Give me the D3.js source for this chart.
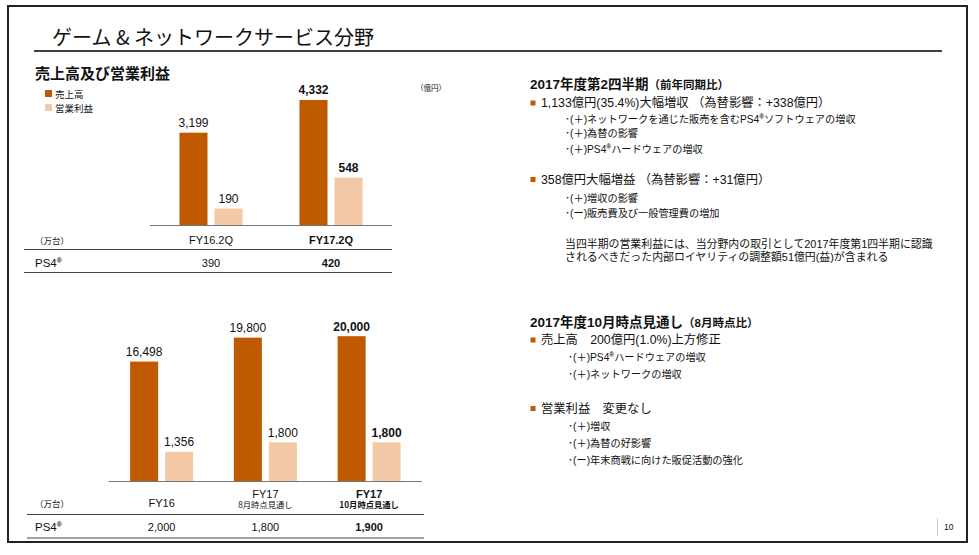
<!DOCTYPE html>
<html>
<head>
<meta charset="utf-8">
<script src="https://cdn.jsdelivr.net/npm/d3@7"></script>
<style>
  body { margin: 0; background: #fff; }
  svg text { font-family: "Liberation Sans", "Noto Sans CJK JP", sans-serif; fill: #111; }
  .jp { font-family: "Noto Sans CJK JP", "Liberation Sans", sans-serif; }
</style>
</head>
<body>
<svg id="slide" width="979" height="555"></svg>
<script>
// quarterly chart data (億円 / 万台)
const qCategories = ['FY16.2Q', 'FY17.2Q'];
const qSales = [3199, 4332];
const qProfit = [190, 548];
const qPs4 = [390, 420];

// full-year chart data
const fyCategories = ['FY16', 'FY17', 'FY17'];
const fySubLabels = ['', '8月時点見通し', '10月時点見通し'];
const fySales = [16498, 19800, 20000];
const fyProfit = [1356, 1800, 1800];
const fyPs4 = [2000, 1800, 1900];

const seriesNames = ['売上高', '営業利益'];
const salesColor = '#C05A00';
const profitColor = '#F2C8A6';

// right hand notes
const notesQ = [
	{ type: 'head', text: '2017年度第2四半期', small: '（前年同期比）' },
	{ type: 'bullet', text: '1,133億円(35.4%)大幅増収 （為替影響：+338億円）' },
	{ type: 'sub', text: '･(＋)ネットワークを通じた販売を含むPS4', reg: 'ソフトウェアの増収' },
	{ type: 'sub', text: '･(＋)為替の影響' },
	{ type: 'sub', text: '･(＋)PS4', reg: 'ハードウェアの増収' },
	{ type: 'bullet', text: '358億円大幅増益 （為替影響：+31億円）' },
	{ type: 'sub', text: '･(＋)増収の影響' },
	{ type: 'sub', text: '･(ー)販売費及び一般管理費の増加' },
	{ type: 'plain', text: '当四半期の営業利益には、当分野内の取引として2017年度第1四半期に認識' },
	{ type: 'plain', text: 'されるべきだった内部ロイヤリティの調整額51億円(益)が含まれる' }
];
const notesQY = [84, 103, 119.5, 133, 149, 179.5, 198, 213.5, 244.5, 257];

const notesFY = [
	{ type: 'head', text: '2017年度10月時点見通し', small: '（8月時点比）' },
	{ type: 'bullet', text: '売上高　200億円(1.0%)上方修正' },
	{ type: 'sub', text: '･(＋)PS4', reg: 'ハードウェアの増収' },
	{ type: 'sub', text: '･(＋)ネットワークの増収' },
	{ type: 'bullet', text: '営業利益　変更なし' },
	{ type: 'sub', text: '･(＋)増収' },
	{ type: 'sub', text: '･(＋)為替の好影響' },
	{ type: 'sub', text: '･(ー)年末商戦に向けた販促活動の強化' }
];
const notesFYY = [322, 340, 357.5, 374, 408.5, 426, 443, 460];

const svg = d3.select('#slide');
const fmt = d3.format(',');

// frame + title
svg.append('rect').attr('x', 8).attr('y', 6).attr('width', 959).attr('height', 536)
	.attr('fill', 'none').attr('stroke', '#222').attr('stroke-width', 2);
svg.append('text').attr('class', 'jp').attr('x', 52).attr('y', 45)
	.attr('font-size', 20).text('ゲーム & ネットワークサービス分野');
svg.append('line').attr('x1', 34).attr('x2', 942).attr('y1', 51).attr('y2', 51)
	.attr('stroke', '#000').attr('stroke-width', 1.5);
svg.append('text').attr('class', 'jp').attr('x', 35).attr('y', 79)
	.attr('font-size', 15).attr('font-weight', 'bold').text('売上高及び営業利益');

// legend
const legend = svg.append('g');
seriesNames.forEach((name, i) => {
	legend.append('rect').attr('x', 45).attr('y', 90 + i * 14).attr('width', 7).attr('height', 7)
		.attr('fill', i === 0 ? salesColor : profitColor);
	legend.append('text').attr('class', 'jp').attr('x', 55).attr('y', 97.5 + i * 14)
		.attr('font-size', 9.5).text(name);
});
svg.append('text').attr('class', 'jp').attr('x', 416).attr('y', 91)
	.attr('font-size', 7.5).text('（億円）');

function addPs4Label(g, x, y, size) {
	const t = g.append('text').attr('x', x).attr('y', y).attr('font-size', size);
	t.append('tspan').text('PS4');
	t.append('tspan').attr('dy', -4).attr('font-size', size * 0.6).attr('font-weight', 'bold').text('®');
}

function drawChart(opts) {
	const g = svg.append('g');
	const n = opts.categories.length;
	const x = d3.scaleBand().domain(d3.range(n)).range(opts.xRange);
	const inner = d3.scaleBand().domain([0, 1]).range([-31.5, 31.5]).paddingInner(0.2);
	const ySales = d3.scaleLinear().domain([0, opts.salesMax]).range([opts.base, opts.base - opts.salesPx]);
	const yProfit = d3.scaleLinear().domain([0, opts.profitMax]).range([opts.base, opts.base - opts.profitPx]);
	const rows = opts.categories.map((c, i) => ({ i, vals: [opts.sales[i], opts.profit[i]] }));

	rows.forEach(r => {
		const cx = x(r.i) + x.bandwidth() / 2;
		const bold = r.i === n - 1 ? 'bold' : 'normal';
		r.vals.forEach((v, s) => {
			const y = s === 0 ? ySales : yProfit;
			g.append('rect')
				.attr('x', cx + inner(s)).attr('width', inner.bandwidth())
				.attr('y', y(v)).attr('height', opts.base - y(v))
				.attr('fill', s === 0 ? salesColor : profitColor);
			g.append('text').attr('x', cx + inner(s) + inner.bandwidth() / 2).attr('y', y(v) - 5.5)
				.attr('text-anchor', 'middle').attr('font-size', 12).attr('font-weight', bold)
				.text(fmt(v));
		});
	});

	g.append('line').attr('x1', opts.xRange[0] - 1).attr('x2', opts.xRange[1] + 1)
		.attr('y1', opts.base + 0.5).attr('y2', opts.base + 0.5).attr('stroke', '#777');

	// category row
	g.append('text').attr('class', 'jp').attr('x', 35).attr('y', opts.catY)
		.attr('font-size', 8.5).text('（万台）');
	rows.forEach(r => {
		const cx = x(r.i) + x.bandwidth() / 2;
		const bold = r.i === n - 1 ? 'bold' : 'normal';
		const sub = opts.subLabels ? opts.subLabels[r.i] : '';
		g.append('text').attr('x', cx).attr('y', sub ? opts.catY - 9.5 : opts.catY)
			.attr('text-anchor', 'middle').attr('font-size', 11).attr('font-weight', bold)
			.text(opts.categories[r.i]);
		if (sub) {
			g.append('text').attr('class', 'jp').attr('x', cx).attr('y', opts.catY + 1)
				.attr('text-anchor', 'middle').attr('font-size', 8.3).attr('font-weight', bold)
				.text(sub);
		}
		g.append('text').attr('x', cx).attr('y', opts.ps4Y)
			.attr('text-anchor', 'middle').attr('font-size', 11).attr('font-weight', bold)
			.text(fmt(opts.ps4[r.i]));
	});
	addPs4Label(g, 35, opts.ps4Y, 11.5);
	opts.lines.forEach(ly => {
		g.append('line').attr('x1', opts.tableX[0]).attr('x2', opts.tableX[1])
			.attr('y1', ly).attr('y2', ly).attr('stroke', '#444').attr('stroke-width', 1);
	});
}

drawChart({
	categories: qCategories, sales: qSales, profit: qProfit, ps4: qPs4,
	xRange: [151, 391], base: 225,
	salesMax: 5000, salesPx: 144.3, profitMax: 1000, profitPx: 86.3,
	catY: 243.5, ps4Y: 266.5, lines: [249.5, 272.5], tableX: [24, 392]
});

drawChart({
	categories: fyCategories, subLabels: fySubLabels, sales: fySales, profit: fyProfit, ps4: fyPs4,
	xRange: [109.75, 421], base: 481,
	salesMax: 25000, salesPx: 181, profitMax: 5000, profitPx: 107.5,
	catY: 507, ps4Y: 530.5, lines: [514.5, 538], tableX: [27, 424]
});

// notes on the right
function drawNotes(notes, ys) {
	const g = svg.append('g').attr('class', 'notes');
	notes.forEach((d, i) => {
		const y = ys[i];
		if (d.type === 'head') {
			const t = g.append('text').attr('x', 530).attr('y', y + 5)
				.attr('font-size', 13.5).attr('font-weight', 'bold');
			t.append('tspan').text(d.text);
			t.append('tspan').attr('font-size', 11.5).text(d.small);
		} else if (d.type === 'bullet') {
			g.append('rect').attr('x', 530.5).attr('y', y - 2.5).attr('width', 5).attr('height', 5)
				.attr('fill', salesColor);
			g.append('text').attr('x', 541).attr('y', y + 4.3)
				.attr('font-size', 12.3).text(d.text);
		} else {
			const sx = notes === notesFY ? 568 : 565;
			const plain = d.type === 'plain';
			const t = g.append('text').attr('x', plain ? 565 : sx).attr('y', y + 3.8)
				.attr('font-size', plain ? 10.9 : 10.2);
			t.append('tspan').text(d.text);
			if (d.reg) {
				t.append('tspan').attr('dy', -4).attr('font-size', 6.5).attr('font-weight', 'bold').text('®');
				t.append('tspan').attr('dy', 4).text(d.reg);
			}
		}
	});
}
drawNotes(notesQ, notesQY);
drawNotes(notesFY, notesFYY);

// page number
svg.append('line').attr('x1', 937.5).attr('x2', 937.5).attr('y1', 518).attr('y2', 536)
	.attr('stroke', '#ccc');
svg.append('text').attr('x', 944).attr('y', 530).attr('font-size', 8.5).text('10');
</script>
</body>
</html>
